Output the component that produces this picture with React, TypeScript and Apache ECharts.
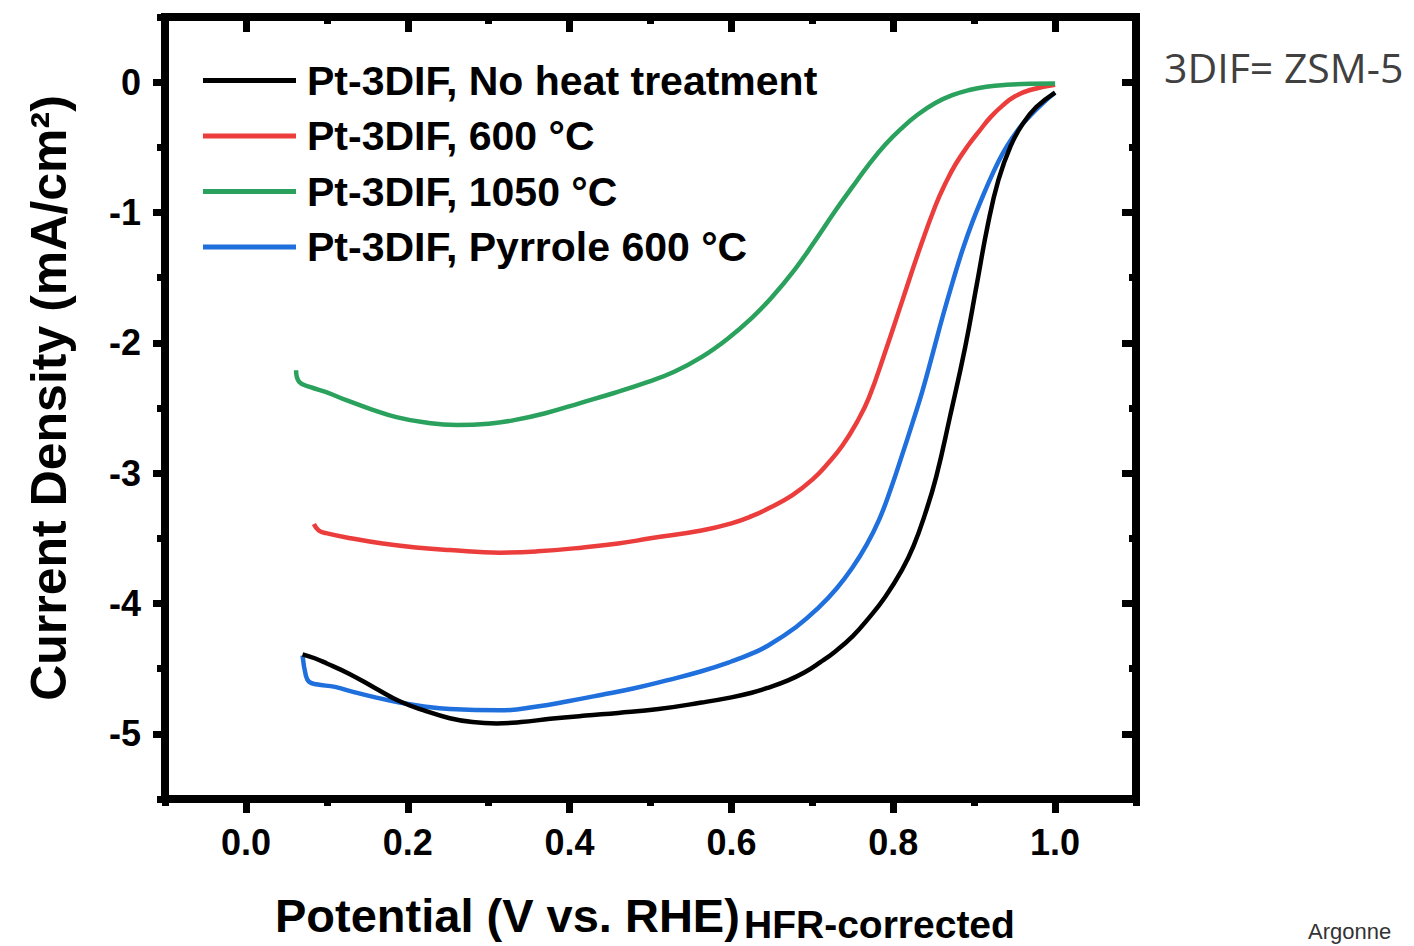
import React, { useEffect, useRef } from "react";
import * as echarts from "echarts";

// ---- Tick values ----
const xMajorTicks = [0, 0.2, 0.4, 0.6, 0.8, 1.0];
const xMinorTicks = [-0.1, 0.1, 0.3, 0.5, 0.7, 0.9, 1.1];
const yMajorTicks = [0, -1, -2, -3, -4, -5];
const yMinorTicks = [0.5, -0.5, -1.5, -2.5, -3.5, -4.5, -5.5];

// ---- Series names ----
const seriesNames = [
  "Pt-3DIF, No heat treatment",
  "Pt-3DIF, 600 \u00B0C",
  "Pt-3DIF, 1050 \u00B0C",
  "Pt-3DIF, Pyrrole 600 \u00B0C",
];

// ---- Series values: [potential V, current density mA/cm2] ----
const noHeat = [
  [0.070, -4.39], [0.085, -4.42], [0.10, -4.46], [0.128, -4.54], [0.16, -4.65],
  [0.19, -4.75], [0.22, -4.82], [0.252, -4.88], [0.28, -4.91], [0.31, -4.92],
  [0.34, -4.91], [0.376, -4.885], [0.42, -4.86], [0.46, -4.84], [0.51, -4.81],
  [0.563, -4.76], [0.60, -4.72], [0.625, -4.685], [0.646, -4.645], [0.67, -4.59],
  [0.69, -4.53], [0.71, -4.45], [0.728, -4.37], [0.75, -4.25], [0.77, -4.11],
  [0.79, -3.95], [0.811, -3.74], [0.825, -3.56], [0.839, -3.32], [0.853, -3.03],
  [0.870, -2.57], [0.889, -2.03], [0.903, -1.56], [0.917, -1.09], [0.93, -0.75],
  [0.945, -0.49], [0.96, -0.32], [0.977, -0.19], [1.0, -0.08],
];
const heat600 = [
  [0.084, -3.39], [0.090, -3.44], [0.099, -3.46], [0.13, -3.50], [0.169, -3.54],
  [0.21, -3.57], [0.252, -3.59], [0.314, -3.61], [0.36, -3.60], [0.417, -3.57],
  [0.46, -3.54], [0.50, -3.50], [0.563, -3.44], [0.60, -3.385], [0.625, -3.33],
  [0.646, -3.27], [0.675, -3.17], [0.70, -3.05], [0.72, -2.92], [0.737, -2.79],
  [0.755, -2.61], [0.770, -2.42], [0.79, -2.07], [0.811, -1.68], [0.832, -1.29],
  [0.852, -0.95], [0.865, -0.77], [0.877, -0.63], [0.892, -0.49], [0.907, -0.37],
  [0.92, -0.27], [0.935, -0.18], [0.95, -0.11], [0.969, -0.06], [1.0, -0.02],
];
const heat1050 = [
  [0.062, -2.21], [0.066, -2.30], [0.08, -2.34], [0.10, -2.38], [0.124, -2.44],
  [0.155, -2.51], [0.186, -2.57], [0.22, -2.61], [0.261, -2.63], [0.30, -2.62],
  [0.33, -2.595], [0.37, -2.54], [0.414, -2.46], [0.455, -2.385], [0.497, -2.30],
  [0.53, -2.22], [0.563, -2.11], [0.595, -1.97], [0.625, -1.81], [0.65, -1.65],
  [0.678, -1.44], [0.703, -1.22], [0.728, -0.99], [0.75, -0.80], [0.77, -0.63],
  [0.79, -0.48], [0.811, -0.35], [0.83, -0.25], [0.852, -0.16], [0.873, -0.10],
  [0.894, -0.06], [0.915, -0.035], [0.94, -0.02], [0.97, -0.012], [1.0, -0.01],
];
const pyrrole600 = [
  [0.070, -4.40], [0.074, -4.55], [0.078, -4.60], [0.087, -4.62], [0.11, -4.64],
  [0.128, -4.67], [0.16, -4.72], [0.19, -4.76], [0.22, -4.79], [0.252, -4.81],
  [0.314, -4.82], [0.36, -4.79], [0.398, -4.75], [0.44, -4.70], [0.48, -4.65],
  [0.52, -4.59], [0.563, -4.52], [0.60, -4.445], [0.625, -4.385], [0.646, -4.32],
  [0.68, -4.18], [0.708, -4.03], [0.73, -3.885], [0.749, -3.73], [0.767, -3.55],
  [0.783, -3.35], [0.797, -3.12], [0.811, -2.86], [0.824, -2.61], [0.836, -2.37],
  [0.848, -2.10], [0.861, -1.80], [0.874, -1.52], [0.886, -1.28], [0.898, -1.07],
  [0.911, -0.87], [0.923, -0.70], [0.935, -0.55], [0.948, -0.42], [0.96, -0.32],
  [0.972, -0.24], [0.985, -0.16], [1.0, -0.08],
];

const seriesData = [noHeat, heat600, heat1050, pyrrole600];
const seriesColors = ["#000000", "#ec3d3d", "#2aa15d", "#1f6fdc"];

const FONT = '"Liberation Sans", Arial, sans-serif';

function makeAxis(kind: "x" | "y", position: string, ticks: number[], length: number, inside: boolean, labels: boolean, line: boolean) {
  const isX = kind === "x";
  return {
    type: "value",
    position,
    min: isX ? -0.1 : -5.5,
    max: isX ? 1.1 : 0.5,
    splitLine: { show: false },
    axisLine: { show: line, onZero: false, lineStyle: { color: "#000", width: 8, cap: "square" } },
    axisTick: {
      show: true,
      inside,
      length,
      customValues: ticks,
      lineStyle: { color: "#000", width: 7 },
    },
    axisLabel: labels
      ? {
          show: true,
          customValues: ticks,
          margin: isX ? 25 : 24,
          fontSize: 36,
          fontWeight: "bold",
          fontFamily: FONT,
          color: "#000",
          formatter: (v: number) => (isX ? v.toFixed(1) : String(v)),
        }
      : { show: false },
  };
}

export default function App() {
  const ref = useRef<HTMLDivElement>(null);
  useEffect(() => {
    const chart = echarts.init(ref.current!, undefined, { renderer: "svg" });
    const option: any = {
      animation: false,
      backgroundColor: "#ffffff",
      grid: {
        left: 165,
        right: 278,
        top: 17,
        bottom: 147,
        show: true,
        borderColor: "#000",
        borderWidth: 8,
        containLabel: false,
      },
      xAxis: [
        makeAxis("x", "bottom", xMajorTicks, 14, false, true, true),
        makeAxis("x", "bottom", xMinorTicks, 7, false, false, false),
        makeAxis("x", "top", xMajorTicks, 15, true, false, true),
        makeAxis("x", "top", xMinorTicks, 7, true, false, false),
      ],
      yAxis: [
        makeAxis("y", "left", yMajorTicks, 12, false, true, true),
        makeAxis("y", "left", yMinorTicks, 8, false, false, false),
        makeAxis("y", "right", yMajorTicks, 14, true, false, true),
        makeAxis("y", "right", yMinorTicks, 7, true, false, false),
      ],
      legend: {
        orient: "vertical",
        left: 203,
        top: 60,
        padding: 0,
        icon: "rect",
        itemWidth: 93,
        itemHeight: 5,
        itemGap: 14.5,
        selectedMode: false,
        data: seriesNames,
        textStyle: {
          fontSize: 41,
          fontWeight: "bold",
          fontFamily: FONT,
          color: "#000",
          lineHeight: 41,
          padding: [0, 0, 0, 6],
        },
      },
      series: seriesNames.map((name, i) => ({
        name,
        type: "line",
        xAxisIndex: 0,
        yAxisIndex: 0,
        data: seriesData[i],
        showSymbol: false,
        symbol: "none",
        smooth: 0.45,
        color: seriesColors[i],
        lineStyle: { color: seriesColors[i], width: 4.5 },
        itemStyle: { color: seriesColors[i] },
        z: 3 + (i === 0 ? 1 : 0),
      })),
      graphic: [
        {
          type: "text",
          x: 49,
          y: 398,
          rotation: Math.PI / 2,
          style: {
            text: "Current Density (mA/cm\u00B2)",
            font: `bold 50px ${FONT}`,
            fill: "#000",
            align: "center",
            verticalAlign: "middle",
          },
        },
        {
          type: "text",
          x: 275,
          y: 915,
          style: {
            text: "Potential (V vs. RHE)",
            font: `bold 47px ${FONT}`,
            fill: "#000",
            align: "left",
            verticalAlign: "middle",
          },
        },
        {
          type: "text",
          x: 744,
          y: 924,
          style: {
            text: "HFR-corrected",
            font: `bold 39px ${FONT}`,
            fill: "#000",
            align: "left",
            verticalAlign: "middle",
          },
        },
        {
          type: "text",
          x: 1164,
          y: 67,
          style: {
            text: "3DIF= ZSM-5",
            font: `41px "Open Sans", ${FONT}`,
            fill: "#404040",
            align: "left",
            verticalAlign: "middle",
          },
        },
        {
          type: "text",
          x: 1308,
          y: 920,
          style: {
            text: "Argonne",
            font: `22px ${FONT}`,
            fill: "#333333",
            align: "left",
            verticalAlign: "top",
          },
        },
      ],
    };
    chart.setOption(option);
    return () => chart.dispose();
  }, []);
  return (
    <div
      ref={ref}
      style={{ position: "fixed", left: 0, top: 0, width: 1414, height: 946, background: "#fff" }}
    />
  );
}
